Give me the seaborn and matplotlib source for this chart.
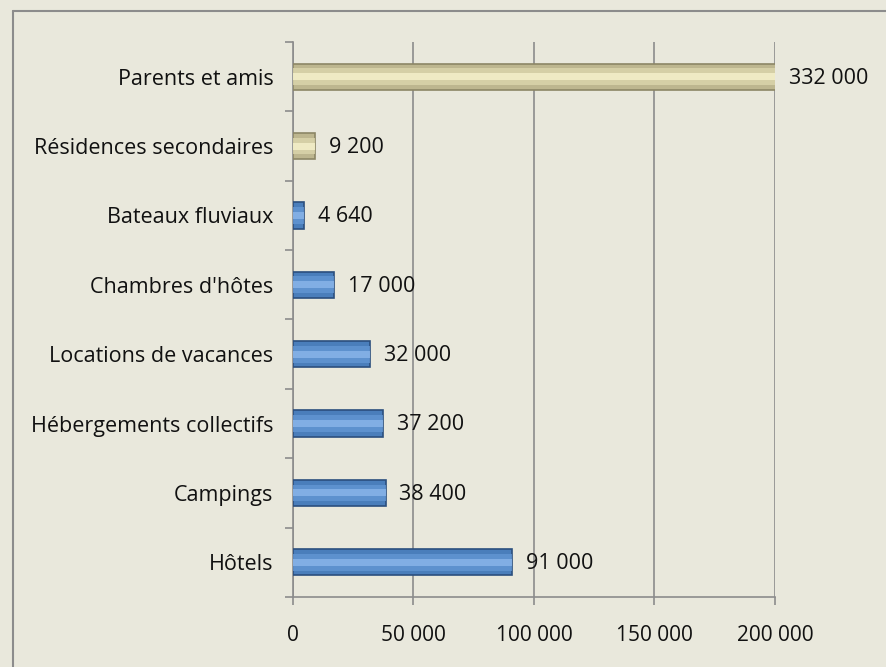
import pandas as pd
import seaborn as sns
import matplotlib.pyplot as plt
from matplotlib.lines import Line2D
from matplotlib.ticker import FuncFormatter, MultipleLocator

categories = ["Parents et amis", "Résidences secondaires", "Bateaux fluviaux",
              "Chambres d'hôtes", "Locations de vacances", "Hébergements collectifs",
              "Campings", "Hôtels"]
values = [332000, 9200, 4640, 17000, 32000, 37200, 38400, 91000]
groups = ["beige", "beige", "bleu", "bleu", "bleu", "bleu", "bleu", "bleu"]

df = pd.DataFrame({"Type": categories, "Nuitées": values, "Groupe": groups})

bg = "#E9E8DC"
sns.set_style("white")
plt.rcParams["font.family"] = ["Open Sans", "DejaVu Sans"]

fig = plt.figure(figsize=(8.87, 6.67), dpi=100, facecolor=bg)
ax = fig.add_axes([0.3303, 0.105, 0.5434, 0.832])
ax.set_facecolor(bg)

main = {"beige": "#BDB68F", "bleu": "#4A7EBB"}
edge = {"beige": "#8C8666", "bleu": "#2B4F7E"}
mid = {"beige": "#DCD6AC", "bleu": "#6396D4"}
light = {"beige": "#F6F2CC", "bleu": "#8BB6EA"}

# bar body
sns.barplot(data=df, x="Nuitées", y="Type", hue="Groupe", palette=main,
            orient="h", width=0.38, dodge=False, legend=False, ax=ax,
            saturation=1, linewidth=1.2, edgecolor="#3A4A5E", zorder=3)
for p, g in zip(ax.patches, groups):
    p.set_edgecolor(edge[g])
n = len(ax.patches)
# soft highlight bands (bevel look)
sns.barplot(data=df, x="Nuitées", y="Type", hue="Groupe", palette=mid,
            orient="h", width=0.24, dodge=False, legend=False, ax=ax,
            saturation=1, linewidth=0, zorder=4)
sns.barplot(data=df, x="Nuitées", y="Type", hue="Groupe", palette=light,
            orient="h", width=0.10, dodge=False, legend=False, ax=ax,
            saturation=1, linewidth=0, zorder=5)
for p in ax.patches[n:]:
    p.set_alpha(0.8)

xmax = 200000
ax.set_xlim(0, xmax)
ax.set_ylim(len(categories) - 0.5, -0.5)
ax.xaxis.set_major_locator(MultipleLocator(50000))
ax.xaxis.set_major_formatter(FuncFormatter(lambda v, _: f"{int(v):,}".replace(",", " ")))
ax.grid(axis="x", color="#8C8C8C", linewidth=1.2, zorder=0)
ax.set_axisbelow(True)

for s in ["top", "right"]:
    ax.spines[s].set_visible(False)
for s in ["left", "bottom"]:
    ax.spines[s].set_color("#8C8C8C")
    ax.spines[s].set_linewidth(1.2)

ax.set_xlabel("")
ax.set_ylabel("")
ax.tick_params(axis="x", length=6, width=1.2, color="#8C8C8C", labelsize=15,
               pad=14, direction="out", bottom=True)
ax.tick_params(axis="y", which="major", length=0, labelsize=15.5, pad=14)
ax.set_yticks([i + 0.5 for i in range(-1, len(categories))], minor=True)
ax.tick_params(axis="y", which="minor", length=6, width=1.2, color="#8C8C8C",
               direction="out", left=True)
for t in ax.get_xticklabels() + ax.get_yticklabels():
    t.set_color("#111111")

for i, v in enumerate(values):
    ax.annotate(f"{v:,}".replace(",", " "), xy=(min(v, xmax), i),
                xytext=(10, -1), textcoords="offset points", va="center",
                ha="left", fontsize=15.5, color="#111111",
                annotation_clip=False, zorder=6)

# outer frame (left and top edges)
fig.add_artist(Line2D([13 / 887, 13 / 887], [0, 1 - 11 / 667], transform=fig.transFigure,
                      color="#8C8C8C", linewidth=1.5))
fig.add_artist(Line2D([13 / 887, 1], [1 - 11 / 667, 1 - 11 / 667], transform=fig.transFigure,
                      color="#8C8C8C", linewidth=1.5))

fig.savefig("out.png", dpi=100, facecolor=bg)
